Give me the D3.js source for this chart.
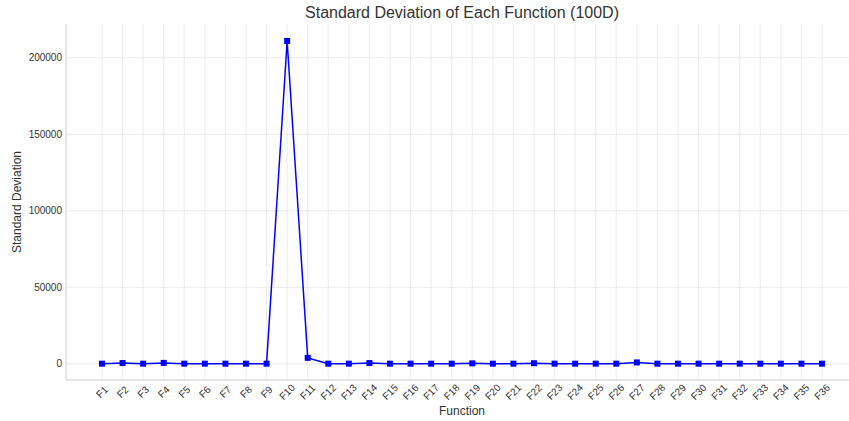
<!DOCTYPE html>
<html><head><meta charset="utf-8">
<script src="https://cdn.jsdelivr.net/npm/d3@7"></script>
<style>body{margin:0;background:#fff}svg{display:block;font-family:"Liberation Sans",Arial,sans-serif}</style>
</head><body><svg id="c" width="849" height="421"></svg>
<script>
const categories = Array.from({length:36},(_,i)=>"F"+(i+1));
const stdValues = [100,500,100,600,100,100,100,100,100,211000,3900,100,100,500,100,100,100,100,300,100,100,400,100,100,100,100,900,100,100,100,100,100,100,100,100,100];
const yTicks = [0,50000,100000,150000,200000];
const title = "Standard Deviation of Each Function (100D)";
const xLabel = "Function", yLabel = "Standard Deviation";

const svg = d3.select("#c");
const L=66, R=858, T=24, B=380;
const x = d3.scaleLinear().domain([-1.75, 36.75]).range([L,R]);
const y = d3.scaleLinear().domain([-10575, 222075]).range([B,T]);
const txt="#333", grid="#e6e6e6", spine="#cccccc";

svg.append("g").selectAll("line").data(categories).join("line")
  .attr("x1",(d,i)=>x(i)).attr("x2",(d,i)=>x(i)).attr("y1",T).attr("y2",B)
  .attr("stroke",grid).attr("stroke-width",0.8);
svg.append("g").selectAll("line").data(yTicks).join("line")
  .attr("x1",L).attr("x2",R).attr("y1",d=>y(d)).attr("y2",d=>y(d))
  .attr("stroke",grid).attr("stroke-width",0.8);
svg.append("line").attr("x1",L).attr("x2",L).attr("y1",T).attr("y2",B).attr("stroke",spine).attr("stroke-width",1);
svg.append("line").attr("x1",L).attr("x2",R).attr("y1",B).attr("y2",B).attr("stroke",spine).attr("stroke-width",1);

svg.append("g").selectAll("text").data(yTicks).join("text")
  .attr("x",L-4).attr("y",d=>y(d)).attr("dy","0.35em").attr("text-anchor","end")
  .attr("font-size",10).attr("fill",txt).text(d=>d);
svg.append("g").selectAll("text").data(categories).join("text")
  .attr("transform",(d,i)=>`translate(${x(i)},${392}) rotate(-45)`)
  .attr("text-anchor","middle").attr("dy","0.35em")
  .attr("font-size",10).attr("fill",txt).text(d=>d);

const line = d3.line().x((d,i)=>x(i)).y(d=>y(d));
svg.append("path").datum(stdValues).attr("d",line).attr("fill","none")
  .attr("stroke","#0000ff").attr("stroke-width",1.5);
svg.append("g").selectAll("rect").data(stdValues).join("rect")
  .attr("x",(d,i)=>x(i)-3).attr("y",d=>y(d)-3).attr("width",6).attr("height",6)
  .attr("fill","#0000ff");

svg.append("text").attr("x",(L+R)/2).attr("y",18).attr("text-anchor","middle")
  .attr("font-size",16).attr("fill",txt).text(title);
svg.append("text").attr("x",(L+R)/2).attr("y",415).attr("text-anchor","middle")
  .attr("font-size",12).attr("fill",txt).text(xLabel);
svg.append("text").attr("transform",`translate(21,${(T+B)/2}) rotate(-90)`).attr("text-anchor","middle")
  .attr("font-size",12).attr("fill",txt).text(yLabel);
</script></body></html>
